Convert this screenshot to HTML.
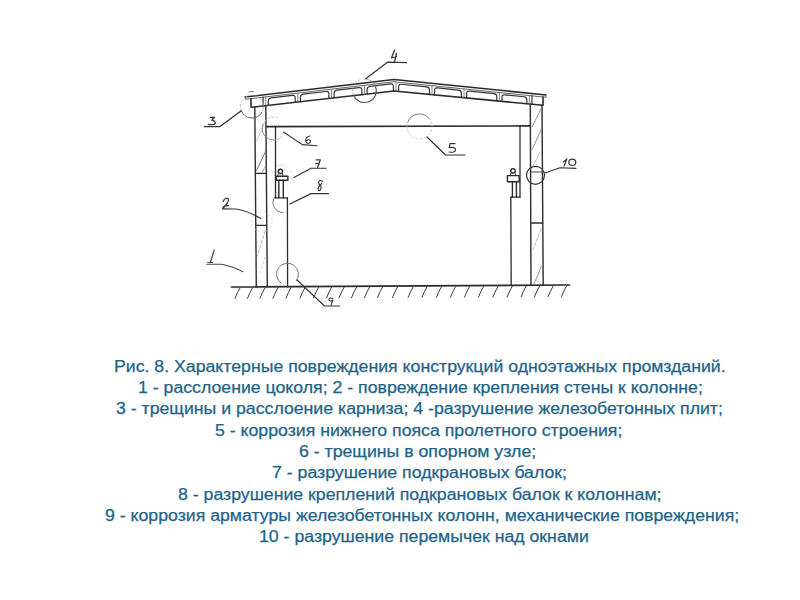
<!DOCTYPE html>
<html><head><meta charset="utf-8">
<style>
html,body{margin:0;padding:0;background:#fff;width:800px;height:600px;overflow:hidden;}
svg{position:absolute;left:0;top:0;}
.ln{position:absolute;transform-origin:0 0;transform:scaleX(1.106);font-family:"Liberation Sans",sans-serif;font-size:16px;line-height:18px;color:#1e6389;white-space:nowrap;-webkit-text-stroke:0.25px #1e6389;}
</style></head><body>
<svg width="800" height="600" viewBox="0 0 800 600" stroke-linecap="round" stroke-linejoin="round">
<path d="M245,97.0 L394,79.5 L546,95.0" stroke="#2a2a2a" stroke-width="1.5" fill="none" />
<path d="M245.3,97.0 L245.3,99.3 L394,81.8 L546,97.3 L546,95.0" stroke="#666" stroke-width="1.0" fill="none" />
<path d="M251,98.59530201342281 L251,107.3 L394,91.0 L543,105.3 L543,96.99407894736842" stroke="#2a2a2a" stroke-width="1.6" fill="none" />
<path d="M263.09999999999997,97.1741610738255 L263.09999999999997,105.92076923076924" stroke="#333" stroke-width="1.2" fill="none" />
<path d="M268.3,105.32804195804195 L268.3,101.06342281879195 Q268.3,98.26342281879195 271.1,97.93456375838926 L292.4,95.43288590604027 Q295.2,95.10402684563759 295.2,97.90402684563759 L295.2,102.26181818181819" stroke="#333" stroke-width="1.2" fill="none" />
<path d="M300.40000000000003,101.6690909090909 L300.40000000000003,97.29328859060402 Q300.40000000000003,94.49328859060402 303.20000000000005,94.16442953020133 L326.09999999999997,91.4748322147651 Q328.9,91.14597315436242 328.9,93.94597315436242 L328.9,98.42048951048952" stroke="#333" stroke-width="1.2" fill="none" />
<path d="M334.1,97.82776223776223 L334.1,93.33523489932885 Q334.1,90.53523489932886 336.90000000000003,90.20637583892616 L359.09999999999997,87.5989932885906 Q361.9,87.27013422818793 361.9,90.07013422818792 L361.9,94.65895104895105" stroke="#333" stroke-width="1.2" fill="none" />
<path d="M367.1,94.06622377622378 L367.1,89.45939597315436 Q367.1,86.65939597315436 369.90000000000003,86.33053691275168 L390.59999999999997,83.8993288590604 Q393.4,83.57046979865773 393.4,86.37046979865772 L393.4,91.06839160839161" stroke="#333" stroke-width="1.2" fill="none" />
<path d="M398.6,91.44147651006712 L398.6,86.76907894736841 Q398.6,83.96907894736842 401.40000000000003,84.2546052631579 L426.59999999999997,86.82434210526316 Q429.4,87.10986842105262 429.4,89.90986842105262 L429.4,94.39744966442953" stroke="#333" stroke-width="1.2" fill="none" />
<path d="M434.6,94.8965100671141 L434.6,90.44013157894737 Q434.6,87.64013157894738 437.40000000000003,87.92565789473684 L458.59999999999997,90.08749999999999 Q461.4,90.37302631578947 461.4,93.17302631578947 L461.4,97.46859060402684" stroke="#333" stroke-width="1.2" fill="none" />
<path d="M466.6,97.9676510067114 L466.6,93.70328947368421 Q466.6,90.90328947368421 469.40000000000003,91.1888157894737 L493.99999999999994,93.69736842105263 Q496.79999999999995,93.9828947368421 496.79999999999995,96.7828947368421 L496.79999999999995,100.86604026845637" stroke="#333" stroke-width="1.2" fill="none" />
<path d="M502.0,101.36510067114094 L502.0,97.31315789473685 Q502.0,94.51315789473685 504.8,94.79868421052632 L524.0,96.75657894736842 Q526.8,97.0421052631579 526.8,99.84210526315789 L526.8,103.74523489932885" stroke="#333" stroke-width="1.2" fill="none" />
<path d="M532.0,95.87236842105263 L532.0,104.24429530201343" stroke="#333" stroke-width="1.2" fill="none" />
<line x1="265.7" y1="96.86879194630872" x2="265.7" y2="105.62440559440559" stroke="#666" stroke-width="0.8"/>
<line x1="297.8" y1="93.0986577181208" x2="297.8" y2="101.96545454545455" stroke="#666" stroke-width="0.8"/>
<line x1="331.5" y1="89.14060402684564" x2="331.5" y2="98.12412587412587" stroke="#666" stroke-width="0.8"/>
<line x1="364.5" y1="85.26476510067114" x2="364.5" y2="94.36258741258742" stroke="#666" stroke-width="0.8"/>
<line x1="396" y1="82.00394736842105" x2="396" y2="91.19194630872484" stroke="#666" stroke-width="0.8"/>
<line x1="432" y1="85.675" x2="432" y2="94.64697986577181" stroke="#666" stroke-width="0.8"/>
<line x1="464" y1="88.93815789473685" x2="464" y2="97.71812080536913" stroke="#666" stroke-width="0.8"/>
<line x1="499.4" y1="92.54802631578947" x2="499.4" y2="101.11557046979866" stroke="#666" stroke-width="0.8"/>
<line x1="529.4" y1="95.60723684210525" x2="529.4" y2="103.99476510067113" stroke="#666" stroke-width="0.8"/>
<line x1="254.8" y1="106.86685314685315" x2="256.3" y2="286.85502958579883" stroke="#2b2b2b" stroke-width="1.4"/>
<line x1="265.8" y1="105.61300699300699" x2="267.3" y2="286.7899408284024" stroke="#2b2b2b" stroke-width="1.4"/>
<line x1="255.8" y1="173.3" x2="266.4" y2="173.3" stroke="#2b2b2b" stroke-width="1.2"/>
<line x1="256" y1="225.4" x2="266.6" y2="225.4" stroke="#2b2b2b" stroke-width="1.3"/>
<line x1="256.5" y1="170.5" x2="265.5" y2="151.5" stroke="#666" stroke-width="0.9"/>
<line x1="262" y1="172.5" x2="265.5" y2="166" stroke="#888" stroke-width="0.8"/>
<line x1="257" y1="140" x2="265" y2="122" stroke="#aaa" stroke-width="0.7"/>
<path d="M265,231 L257.5,256" stroke="#aaa" stroke-width="0.8" fill="none" stroke-dasharray="3 2"/>
<path d="M265,257 L259,276" stroke="#bbb" stroke-width="0.7" fill="none" stroke-dasharray="2 3"/>
<line x1="530.3" y1="104.0811409395973" x2="531" y2="285.2278106508876" stroke="#2b2b2b" stroke-width="1.4"/>
<line x1="542.0" y1="105.20402684563759" x2="543.2" y2="285.1568047337278" stroke="#2b2b2b" stroke-width="1.4"/>
<line x1="530.5" y1="172" x2="542.5" y2="172" stroke="#444" stroke-width="1.1"/>
<line x1="530.8" y1="223" x2="542.8" y2="223" stroke="#2b2b2b" stroke-width="1.3"/>
<line x1="532" y1="127" x2="541" y2="109" stroke="#777" stroke-width="0.8"/>
<line x1="532" y1="150" x2="541" y2="130" stroke="#777" stroke-width="0.8"/>
<line x1="532" y1="168" x2="540" y2="152" stroke="#999" stroke-width="0.7"/>
<path d="M541,229 L533,250" stroke="#aaa" stroke-width="0.8" fill="none" stroke-dasharray="3 2"/>
<path d="M541.5,266 L534,284" stroke="#888" stroke-width="0.9" fill="none" />
<line x1="266.4" y1="126.6" x2="530.3" y2="125.9" stroke="#2b2b2b" stroke-width="1.6"/>
<line x1="275.5" y1="126.6" x2="275.5" y2="197.8" stroke="#2b2b2b" stroke-width="1.3"/>
<line x1="275.5" y1="197.8" x2="287.5" y2="197.8" stroke="#2b2b2b" stroke-width="1.3"/>
<line x1="287.4" y1="197.8" x2="287.6" y2="286.6686390532544" stroke="#2b2b2b" stroke-width="1.3"/>
<line x1="520" y1="126" x2="520" y2="197.2" stroke="#2b2b2b" stroke-width="1.3"/>
<line x1="510.8" y1="197.2" x2="520" y2="197.2" stroke="#2b2b2b" stroke-width="1.2"/>
<line x1="510.8" y1="197.2" x2="511.2" y2="285.34615384615387" stroke="#2b2b2b" stroke-width="1.3"/>
<line x1="231.5" y1="287.0" x2="569.5" y2="285.0" stroke="#2a2a2a" stroke-width="1.7"/>
<path d="M240.0,287.9526627218935 Q237.5,291.9526627218935 235.0,298.4526627218935" stroke="#3a3a3a" stroke-width="1.0" fill="none" />
<path d="M252.5,287.8786982248521 Q250,291.8786982248521 247.5,298.3786982248521" stroke="#3a3a3a" stroke-width="1.0" fill="none" />
<path d="M265.0,287.8047337278106 Q262.5,291.8047337278106 260.0,298.3047337278106" stroke="#3a3a3a" stroke-width="1.0" fill="none" />
<path d="M278.0,287.7278106508876 Q275.5,291.7278106508876 273.0,298.2278106508876" stroke="#3a3a3a" stroke-width="1.0" fill="none" />
<path d="M291.0,287.6508875739645 Q288.5,291.6508875739645 286.0,298.1508875739645" stroke="#3a3a3a" stroke-width="1.0" fill="none" />
<path d="M305.0,287.56804733727813 Q302.5,291.56804733727813 300.0,298.06804733727813" stroke="#3a3a3a" stroke-width="1.0" fill="none" />
<path d="M318.5,287.4881656804734 Q316,291.4881656804734 313.5,297.9881656804734" stroke="#3a3a3a" stroke-width="1.0" fill="none" />
<path d="M331.5,287.4112426035503 Q329,291.4112426035503 326.5,297.9112426035503" stroke="#3a3a3a" stroke-width="1.0" fill="none" />
<path d="M344.0,287.33727810650885 Q341.5,291.33727810650885 339.0,297.83727810650885" stroke="#3a3a3a" stroke-width="1.0" fill="none" />
<path d="M356.5,287.26331360946745 Q354,291.26331360946745 351.5,297.76331360946745" stroke="#3a3a3a" stroke-width="1.0" fill="none" />
<path d="M369.5,287.18639053254435 Q367,291.18639053254435 364.5,297.68639053254435" stroke="#3a3a3a" stroke-width="1.0" fill="none" />
<path d="M382.5,287.1094674556213 Q380,291.1094674556213 377.5,297.6094674556213" stroke="#3a3a3a" stroke-width="1.0" fill="none" />
<path d="M397.5,287.0207100591716 Q395,291.0207100591716 392.5,297.5207100591716" stroke="#3a3a3a" stroke-width="1.0" fill="none" />
<path d="M413.1,286.9284023668639 Q410.6,290.9284023668639 408.1,297.4284023668639" stroke="#3a3a3a" stroke-width="1.0" fill="none" />
<path d="M427.0,286.84615384615387 Q424.5,290.84615384615387 422.0,297.34615384615387" stroke="#3a3a3a" stroke-width="1.0" fill="none" />
<path d="M441.5,286.7603550295858 Q439,290.7603550295858 436.5,297.2603550295858" stroke="#3a3a3a" stroke-width="1.0" fill="none" />
<path d="M455.5,286.6775147928994 Q453,290.6775147928994 450.5,297.1775147928994" stroke="#3a3a3a" stroke-width="1.0" fill="none" />
<path d="M469.5,286.594674556213 Q467,290.594674556213 464.5,297.094674556213" stroke="#3a3a3a" stroke-width="1.0" fill="none" />
<path d="M483.5,286.5118343195266 Q481,290.5118343195266 478.5,297.0118343195266" stroke="#3a3a3a" stroke-width="1.0" fill="none" />
<path d="M498.0,286.4260355029586 Q495.5,290.4260355029586 493.0,296.9260355029586" stroke="#3a3a3a" stroke-width="1.0" fill="none" />
<path d="M512.2,286.3420118343195 Q509.7,290.3420118343195 507.2,296.8420118343195" stroke="#3a3a3a" stroke-width="1.0" fill="none" />
<path d="M526.1,286.2597633136095 Q523.6,290.2597633136095 521.1,296.7597633136095" stroke="#3a3a3a" stroke-width="1.0" fill="none" />
<path d="M539.5,286.1804733727811 Q537,290.1804733727811 534.5,296.6804733727811" stroke="#3a3a3a" stroke-width="1.0" fill="none" />
<path d="M553.1,286.1 Q550.6,290.1 548.1,296.6" stroke="#3a3a3a" stroke-width="1.0" fill="none" />
<path d="M566.5,286.0207100591716 Q564,290.0207100591716 561.5,296.5207100591716" stroke="#3a3a3a" stroke-width="1.0" fill="none" />
<circle cx="280.4" cy="171.39999999999998" r="2.2" stroke="#2b2b2b" stroke-width="1.4" fill="none"/>
<path d="M277.4,176.2 L278.59999999999997,173.2 L282.2,173.2 L283.4,176.2" stroke="#444" stroke-width="1.0" fill="none" />
<rect x="276.2" y="176.2" width="11.699999999999989" height="4.0" stroke="#2b2b2b" stroke-width="1.4" fill="none"/>
<line x1="278.8" y1="180.2" x2="278.8" y2="197.8" stroke="#2b2b2b" stroke-width="1.4"/>
<line x1="283.3" y1="180.2" x2="283.3" y2="197.8" stroke="#2b2b2b" stroke-width="1.4"/>
<circle cx="513" cy="170.79999999999998" r="2.2" stroke="#2b2b2b" stroke-width="1.4" fill="none"/>
<path d="M510,175.6 L511.2,172.6 L514.8,172.6 L516,175.6" stroke="#444" stroke-width="1.0" fill="none" />
<rect x="507.4" y="175.6" width="11.800000000000068" height="6.200000000000017" stroke="#2b2b2b" stroke-width="1.4" fill="none"/>
<line x1="512.4" y1="181.8" x2="512.4" y2="197.2" stroke="#2b2b2b" stroke-width="1.4"/>
<line x1="516.4" y1="181.8" x2="516.4" y2="197.2" stroke="#2b2b2b" stroke-width="1.4"/>
<path d="M261.96,112.25 A11.5,11.5 0 0,1 241.19,110.43" stroke="#666" stroke-width="1.0" fill="none" />
<path d="M241.19,110.43 A11.5,11.5 0 0,1 250.00,95.17" stroke="#bbb" stroke-width="0.8" fill="none" stroke-dasharray="2 2"/>
<path d="M255.93,95.69 A11.5,11.5 0 0,1 261.96,112.25" stroke="#aaa" stroke-width="0.8" fill="none" stroke-dasharray="3 2"/>
<path d="M375.59,86.66 A11.8,11.8 0 0,1 353.41,94.74" stroke="#555" stroke-width="1.1" fill="none" />
<path d="M353.41,94.74 A11.8,11.8 0 0,1 360.46,79.61" stroke="#aaa" stroke-width="0.8" fill="none" stroke-dasharray="2 2"/>
<path d="M364.50,78.90 A11.8,11.8 0 0,1 375.59,86.66" stroke="#888" stroke-width="0.9" fill="none" stroke-dasharray="3 1.5"/>
<path d="M407.75,122.22 A12.5,12.5 0 0,1 429.08,118.47" stroke="#777" stroke-width="1.0" fill="none" />
<path d="M429.08,118.47 A12.5,12.5 0 0,1 429.08,134.53" stroke="#bbb" stroke-width="0.8" fill="none" stroke-dasharray="2 2"/>
<path d="M425.75,137.33 A12.5,12.5 0 0,1 407.19,124.33" stroke="#bbb" stroke-width="0.8" fill="none" stroke-dasharray="2 2"/>
<path d="M273.50,140.00 A11.5,11.5 0 0,1 262.69,124.57" stroke="#888" stroke-width="1.0" fill="none" />
<path d="M262.69,124.57 A11.5,11.5 0 0,1 279.25,118.54" stroke="#bbb" stroke-width="0.8" fill="none" stroke-dasharray="2 2"/>
<path d="M284.31,132.43 A11.5,11.5 0 0,1 273.50,140.00" stroke="#aaa" stroke-width="0.8" fill="none" stroke-dasharray="2 2"/>
<path d="M277.74,165.66 A11,11 0 0,1 287.00,166.47" stroke="#ccc" stroke-width="0.8" fill="none" stroke-dasharray="1.5 2"/>
<path d="M291.03,170.50 A11,11 0 0,1 287.00,185.53" stroke="#ddd" stroke-width="0.7" fill="none" stroke-dasharray="1.5 2.5"/>
<circle cx="262" cy="222" r="10" stroke="#ccc" stroke-width="0.7" fill="none" stroke-dasharray="1.5 3"/>
<path d="M283.00,212.50 A10,10 0 0,1 274.81,196.76" stroke="#777" stroke-width="1.0" fill="none" />
<path d="M281.19,283.21 A11,11 0 1,1 296.51,280.51" stroke="#777" stroke-width="1.0" fill="none" />
<line x1="249" y1="91.8" x2="253.5" y2="91.6" stroke="#888" stroke-width="1.1"/>
<circle cx="535.5" cy="175.3" r="9" stroke="#333" stroke-width="1.2" fill="none"/>
<path d="M204.25,126.6 L220,126.6 L241,111" stroke="#333" stroke-width="1.3" fill="none" />
<path d="M406.5,62.7 L387.5,62.2 L366,78.5" stroke="#333" stroke-width="1.2" fill="none" />
<path d="M465,155 L445.5,155 L427,137" stroke="#333" stroke-width="1.2" fill="none" />
<path d="M316.9,145.8 L302.3,144.6 L283.5,132" stroke="#333" stroke-width="1.1" fill="none" />
<path d="M326.2,168.3 L311,168.3 L294,177.5" stroke="#333" stroke-width="1.1" fill="none" />
<path d="M328.6,193.6 L311,193.6 L290,204" stroke="#333" stroke-width="1.2" fill="none" />
<path d="M222.5,208.9 L236,209 Q248,211 260.7,218.5" stroke="#333" stroke-width="1.1" fill="none" />
<path d="M206.7,264.2 L221.7,264.2 Q232,266 242.7,271.7" stroke="#444" stroke-width="1.1" fill="none" />
<path d="M339.5,306 L324.5,306 L297,280" stroke="#333" stroke-width="1.1" fill="none" />
<path d="M576,168.4 L560,167.8 L545,173.1" stroke="#333" stroke-width="1.1" fill="none" />
<path d="M210.2,117.3 L214.5,117.3 L211.8,120.2 Q215.8,121 215.2,123.3 Q213.5,125.5 208.3,124.3" stroke="#333" stroke-width="1.3" fill="none" />
<path d="M394.5,50.2 L391.5,58 L396.5,56.5 M396.5,53.5 L394.5,62" stroke="#333" stroke-width="1.3" fill="none" />
<path d="M455,143.6 L450,143.6 L449.2,147.6 Q455.5,146.5 455.5,149.8 Q455,153 449.2,152" stroke="#333" stroke-width="1.2" fill="none" />
<path d="M310,136 Q305.8,137 305.6,141 Q306,143.6 308.6,143.2 Q311,142.6 310.2,140.3 Q308.8,139 306.2,140.8" stroke="#333" stroke-width="1.1" fill="none" />
<path d="M316.2,159.8 L320.4,159.8 L317.5,167.5 M315.8,163.6 L319.5,163.2" stroke="#333" stroke-width="1.2" fill="none" />
<path d="M322.2,181.3 Q320,179.5 318.6,182 Q318.5,184.5 321,186 Q321.5,189.5 319.2,190.8 Q317.5,190.2 318.3,187.5 Q319.5,185 321.8,183.5" stroke="#333" stroke-width="1.1" fill="none" />
<path d="M223.2,201.5 Q225,196.8 228.3,198.8 Q229.6,201.5 222.8,208.6 Q223,205.2 228.6,205.6" stroke="#333" stroke-width="1.2" fill="none" />
<path d="M214.2,250 L210.5,262 M207.8,262.5 L212.5,262.5" stroke="#444" stroke-width="1.2" fill="none" />
<path d="M332.8,298.5 Q329.5,297 328.8,299.8 Q329.6,302 333,300 L331,305" stroke="#333" stroke-width="1.1" fill="none" />
<path d="M566.9,158.8 L564,166.2 M563.5,162 L566.9,158.8" stroke="#333" stroke-width="1.1" fill="none" />
<ellipse cx="572.3" cy="162.3" rx="3.5" ry="3.2" stroke="#333" stroke-width="1.2" fill="none"/>
</svg>
<div class="ln" style="top:357.80px;left:113.90px">Рис. 8. Характерные повреждения конструкций одноэтажных промзданий.</div><div class="ln" style="top:379.13px;left:137.50px">1 - расслоение цоколя; 2 - повреждение крепления стены к колонне;</div><div class="ln" style="top:400.46px;left:115.80px">3 - трещины и расслоение карниза; 4 -разрушение железобетонных плит;</div><div class="ln" style="top:421.79px;left:215.40px">5 - коррозия нижнего пояса пролетного строения;</div><div class="ln" style="top:443.12px;left:299.00px">6 - трещины в опорном узле;</div><div class="ln" style="top:464.45px;left:272.40px">7 - разрушение подкрановых балок;</div><div class="ln" style="top:485.78px;left:177.65px">8 - разрушение креплений подкрановых балок к колоннам;</div><div class="ln" style="top:507.11px;left:104.80px">9 - коррозия арматуры железобетонных колонн, механические повреждения;</div><div class="ln" style="top:528.44px;left:258.90px">10 - разрушение перемычек над окнами</div>
</body></html>
